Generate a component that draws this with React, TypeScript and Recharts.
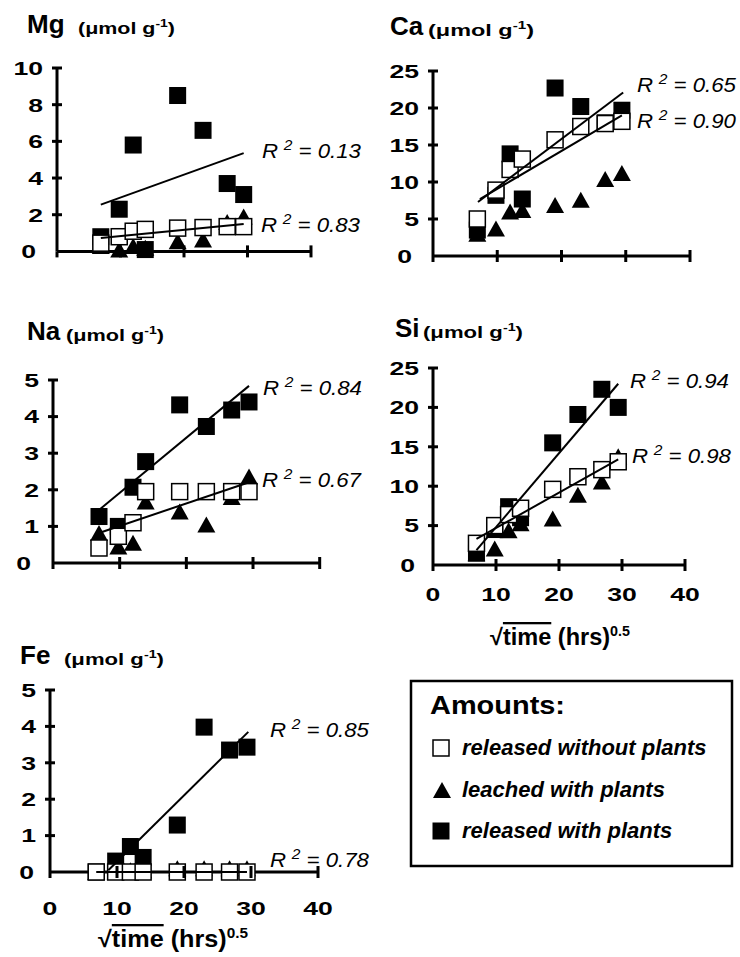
import React from 'react';
import { ScatterChart, Scatter, XAxis, YAxis } from 'recharts';

// sqrt(time) in hrs^0.5, shared by every panel
const SQRT_TIME = [6.9, 9.8, 12, 13.9, 19, 23, 26.8, 29.4];
const X_TICKS = [0, 10, 20, 30, 40];

// Mg
const MG_WITHOUT = [0.45, 0.8, 1.1, 1.2, 1.27, 1.3, 1.35, 1.35];
const MG_LEACHED = [0.3, 0.1, 0.3, 0.2, 0.55, 0.65, 1.6, 1.9];
const MG_WITH = [0.8, 2.3, 5.8, 0.1, 8.5, 6.6, 3.7, 3.1];
const MG_FIT_WITH = [[6.9, 2.55], [29.4, 5.36]];
const MG_FIT_WITHOUT = [[6.9, 0.73], [29.4, 1.5]];
const MG_TICKS = [0, 2, 4, 6, 8, 10];
const MG_R2 = ['0.13', '0.83'];

// Ca
const CA_WITHOUT = [5.0, 8.9, 11.7, 13.1, 15.7, 17.5, 17.9, 18.2];
const CA_LEACHED = [3.0, 3.7, 6.0, 6.2, 6.9, 7.6, 10.4, 11.2];
const CA_WITH = [3.5, 8.2, 13.8, 7.7, 22.7, 20.2, 18.0, 19.7];
const CA_FIT_WITH = [[7.0, 7.3], [29.6, 22.1]];
const CA_FIT_WITHOUT = [[7.3, 7.7], [29.4, 19.0]];
const CA_TICKS = [0, 5, 10, 15, 20, 25];
const CA_R2 = ['0.65', '0.90'];

// Na
const NA_WITHOUT = [0.41, 0.73, 1.1, 1.95, 1.95, 1.95, 1.95, 1.95];
const NA_LEACHED = [0.82, 0.45, 0.55, 1.68, 1.41, 1.05, 1.8, 2.36];
const NA_WITH = [1.27, 1.0, 2.07, 2.77, 4.32, 3.73, 4.18, 4.4];
const NA_FIT_WITH = [[6.9, 1.45], [29.4, 4.84]];
const NA_FIT_LEACHED = [[6.9, 0.82], [29.3, 2.2]];
const NA_TICKS = [0, 1, 2, 3, 4, 5];
const NA_R2 = ['0.84', '0.67'];

// Si
const SI_WITHOUT = [2.75, 5.0, 6.4, 7.2, 9.6, 11.2, 12.1, 13.1];
const SI_LEACHED = [1.5, 2.1, 4.4, 5.3, 5.9, 8.9, 10.6, 13.8];
const SI_WITH = [1.5, 4.5, 7.4, 6.0, 15.5, 19.1, 22.3, 20.0];
const SI_FIT_WITH = [[6.9, 1.9], [29.4, 23.0]];
const SI_FIT_WITHOUT = [[6.9, 3.3], [29.4, 13.4]];
const SI_TICKS = [0, 5, 10, 15, 20, 25];
const SI_R2 = ['0.94', '0.98'];

// Fe
const FE_WITHOUT = [0, 0, 0, 0, 0, 0, 0, 0];
const FE_LEACHED = [0, 0, 0.05, 0.05, 0.1, 0.1, 0.1, 0.1];
const FE_WITH = [0, 0.3, 0.7, 0.4, 1.29, 3.98, 3.35, 3.43];
const FE_FIT_WITH = [[8.7, 0.05], [29.6, 3.85]];
const FE_FIT_WITHOUT = [[6.9, 0], [29.4, 0]];
const FE_TICKS = [0, 1, 2, 3, 4, 5];
const FE_R2 = ['0.85', '0.78'];

const LEGEND_ITEMS = ['released without plants', 'leached with plants', 'released with plants'];

const FONT = '"Liberation Sans", Arial, Helvetica, sans-serif';
const PAD_L = 50;
const PAD_R = 30;
const PAD_T = 12;
const PAD_B = 46;

const pts = (ys: number[]) => ys.map((y, i) => ({ x: SQRT_TIME[i], y }));
const seg = (p: number[][]) => p.map(([x, y]) => ({ x, y }));

const FilledSquare = ({ cx, cy }: any) => <rect x={cx - 8.5} y={cy - 8.5} width={17} height={17} fill="#000" />;
const OpenSquare = ({ cx, cy }: any) => (
  <rect x={cx - 8} y={cy - 8} width={16} height={16} fill="#fff" stroke="#000" strokeWidth={1.5} />
);
const Triangle = ({ cx, cy }: any) => (
  <polygon points={`${cx - 9},${cy + 8} ${cx + 9},${cy + 8} ${cx},${cy - 8}`} fill="#000" />
);
const NoDot = () => <g />;

const YTick = ({ x, y, payload, zeroShift }: any) => {
  const v = payload.value;
  return (
    <g>
      {v !== 0 ? (
        <line x1={x - 5} x2={x + 5} y1={y} y2={y} stroke="#000" strokeWidth={3} />
      ) : (
        <line x1={x} x2={x} y1={y} y2={y + 6} stroke="#000" strokeWidth={3} />
      )}
      <text
        transform={`translate(${x - 14 - (v === 0 ? zeroShift : 0)},${y}) scale(1.4,1)`}
        textAnchor="end"
        dy="0.36em"
        fontSize={19}
        fontWeight="bold"
        fontFamily={FONT}
        fill="#000"
      >
        {v}
      </text>
    </g>
  );
};

const XTick = ({ x, y, payload, showLabel, labelDy }: any) => {
  const v = payload.value;
  return (
    <g>
      {v !== 0 && <line x1={x} x2={x} y1={y - 6} y2={y + 6} stroke="#000" strokeWidth={3} />}
      {showLabel && (
        <text
          transform={`translate(${x},${y + labelDy}) scale(1.4,1)`}
          textAnchor="middle"
          dy="0.36em"
          fontSize={19}
          fontWeight="bold"
          fontFamily={FONT}
          fill="#000"
        >
          {v}
        </text>
      )}
    </g>
  );
};

interface PanelProps {
  left: number; right: number; top: number; bottom: number;
  yTicks: number[];
  without: number[]; leached: number[]; withP: number[];
  fits: number[][][];
  showXLabels?: boolean;
  labelDy?: number;
  zeroShift: number;
}

function Panel(p: PanelProps) {
  const W = p.right - p.left + PAD_L + PAD_R;
  const H = p.bottom - p.top + PAD_T + PAD_B;
  const axisLine = { stroke: '#000', strokeWidth: 3 };
  const yMax = p.yTicks[p.yTicks.length - 1];
  return (
    <div style={{ position: 'absolute', left: p.left - PAD_L, top: p.top - PAD_T }}>
      <ScatterChart width={W} height={H} margin={{ top: PAD_T, right: PAD_R, left: 0, bottom: 0 }}>
        <XAxis
          type="number"
          dataKey="x"
          domain={[0, 40]}
          ticks={X_TICKS}
          interval={0}
          height={PAD_B}
          tickSize={0}
          tickMargin={0}
          axisLine={axisLine}
          tickLine={false}
          tick={(t: any) => <XTick {...t} showLabel={!!p.showXLabels} labelDy={p.labelDy ?? 30} />}
        />
        <YAxis
          type="number"
          dataKey="y"
          domain={[0, yMax]}
          ticks={p.yTicks}
          interval={0}
          width={PAD_L}
          tickSize={0}
          tickMargin={0}
          axisLine={axisLine}
          tickLine={false}
          tick={(t: any) => <YTick {...t} zeroShift={p.zeroShift} />}
        />
        <Scatter data={pts(p.withP)} shape={FilledSquare} isAnimationActive={false} />
        <Scatter data={pts(p.leached)} shape={Triangle} isAnimationActive={false} />
        <Scatter data={pts(p.without)} shape={OpenSquare} isAnimationActive={false} />
        {p.fits.map((f, i) => (
          <Scatter
            key={i}
            data={seg(f)}
            line={{ stroke: '#000', strokeWidth: 2 }}
            shape={NoDot}
            isAnimationActive={false}
          />
        ))}
      </ScatterChart>
    </div>
  );
}

const Title = ({ el, x, y, subX, subW }: any) => (
  <g fontFamily={FONT} fontWeight="bold" fill="#000">
    <text x={x} y={y} fontSize={26}>{el}</text>
    <text x={subX} y={y + 1} fontSize={17} textLength={subW} lengthAdjust="spacingAndGlyphs">
      (μmol g<tspan fontSize={11} dy={-7}>-1</tspan><tspan dy={7}>)</tspan>
    </text>
  </g>
);

const R2 = ({ v, x, y }: any) => (
  <text x={x} y={y} fontSize={20} fontStyle="italic" fontFamily={FONT} fill="#000" textLength={99} lengthAdjust="spacingAndGlyphs">
    R<tspan fontSize={14} dx={5} dy={-8}>2</tspan><tspan dy={8}> = {v}</tspan>
  </text>
);

const AxisTitle = ({ x, y, w }: any) => (
  <text x={x} y={y} fontSize={23} fontWeight="bold" fontFamily={FONT} fill="#000" textLength={w} lengthAdjust="spacingAndGlyphs">
    √<tspan textDecoration="overline">time</tspan> (hrs)<tspan fontSize={14} dy={-9}>0.5</tspan>
  </text>
);

export default function App() {
  return (
    <div style={{ position: 'absolute', left: 0, top: 0, width: 740, height: 957, background: '#fff', fontFamily: FONT }}>
      <Panel left={57} right={311} top={68.3} bottom={251.7} yTicks={MG_TICKS}
        without={MG_WITHOUT} leached={MG_LEACHED} withP={MG_WITH} fits={[MG_FIT_WITH, MG_FIT_WITHOUT]} zeroShift={7} />
      <Panel left={433} right={690} top={71} bottom={256} yTicks={CA_TICKS}
        without={CA_WITHOUT} leached={CA_LEACHED} withP={CA_WITH} fits={[CA_FIT_WITH, CA_FIT_WITHOUT]} zeroShift={7} />
      <Panel left={53.3} right={320} top={380} bottom={563} yTicks={NA_TICKS}
        without={NA_WITHOUT} leached={NA_LEACHED} withP={NA_WITH} fits={[NA_FIT_WITH, NA_FIT_LEACHED]} zeroShift={8} />
      <Panel left={433} right={685} top={368} bottom={565} yTicks={SI_TICKS}
        without={SI_WITHOUT} leached={SI_LEACHED} withP={SI_WITH} fits={[SI_FIT_WITH, SI_FIT_WITHOUT]}
        showXLabels labelDy={29.5} zeroShift={4} />
      <Panel left={50} right={318} top={690} bottom={872} yTicks={FE_TICKS}
        without={FE_WITHOUT} leached={FE_LEACHED} withP={FE_WITH} fits={[FE_FIT_WITH, FE_FIT_WITHOUT]}
        showXLabels labelDy={36} zeroShift={2} />

      <svg width={740} height={957} style={{ position: 'absolute', left: 0, top: 0, pointerEvents: 'none' }}>
        <Title el="Mg" x={27} y={33} subX={78} subW={97} />
        <Title el="Ca" x={390} y={35} subX={428} subW={106} />
        <Title el="Na" x={27} y={340} subX={66} subW={98} />
        <Title el="Si" x={395} y={337} subX={423} subW={100} />
        <Title el="Fe" x={20} y={664} subX={64} subW={100} />

        <R2 v={MG_R2[0]} x={262} y={158} />
        <R2 v={MG_R2[1]} x={261} y={232} />
        <R2 v={CA_R2[0]} x={637} y={92} />
        <R2 v={CA_R2[1]} x={637} y={128} />
        <R2 v={NA_R2[0]} x={263} y={395} />
        <R2 v={NA_R2[1]} x={262} y={487} />
        <R2 v={SI_R2[0]} x={630} y={388} />
        <R2 v={SI_R2[1]} x={632} y={463} />
        <R2 v={FE_R2[0]} x={270} y={737} />
        <R2 v={FE_R2[1]} x={270} y={867} />

        <AxisTitle x={490} y={645} w={140} />
        <AxisTitle x={98} y={947} w={150} />

        {/* legend box */}
        <rect x={411} y={681} width={321} height={185} fill="none" stroke="#000" strokeWidth={2.5} />
        <text x={430} y={714} fontSize={26} fontWeight="bold" fontFamily={FONT} textLength={135} lengthAdjust="spacingAndGlyphs">Amounts:</text>
        <OpenSquare cx={441} cy={748} />
        <Triangle cx={442} cy={790} />
        <FilledSquare cx={441} cy={831} />
        {LEGEND_ITEMS.map((t, i) => (
          <text key={t} x={462} y={[755, 797, 838][i]} fontSize={22} fontWeight="bold" fontStyle="italic" fontFamily={FONT}>{t}</text>
        ))}
      </svg>
    </div>
  );
}
